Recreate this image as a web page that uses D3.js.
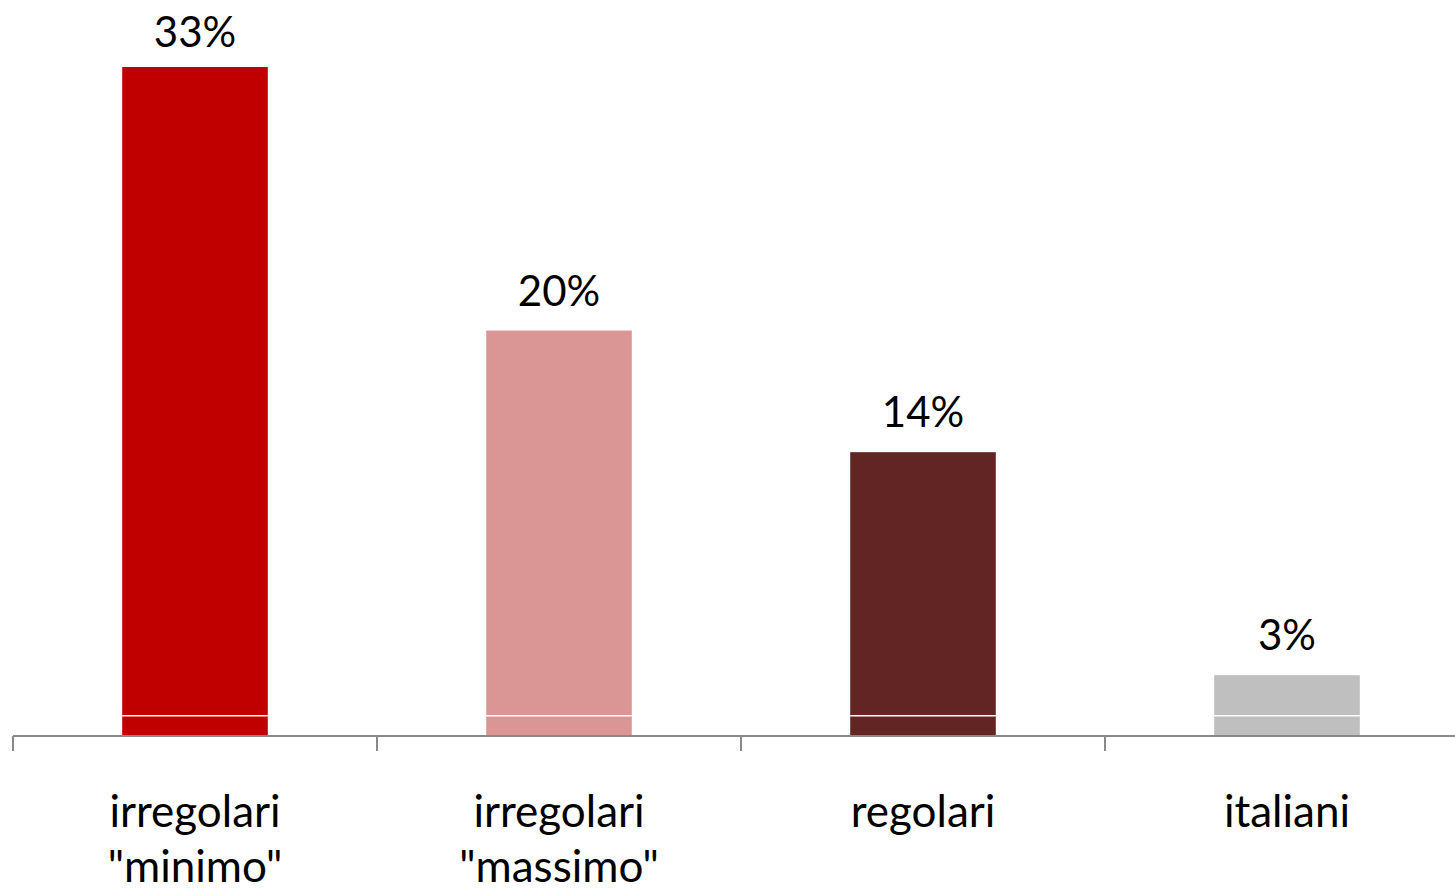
<!DOCTYPE html>
<html><head><meta charset="utf-8">
<script src="https://cdn.jsdelivr.net/npm/d3@7/dist/d3.min.js"></script>
<style>body{margin:0;background:#fff}svg{display:block}</style>
</head><body><svg id="c" width="1455" height="889"></svg>
<script>
const categories = [["irregolari", "\"minimo\""], ["irregolari", "\"massimo\""], ["regolari"], ["italiani"]];
const totals = [33, 20, 14, 3];
const baseSegment = [1, 1, 1, 1];
const labels = ["33%", "20%", "14%", "3%"];
const colors = ["#C00000", "#DA9694", "#632523", "#BFBFBF"];

const svg = d3.select("#c");
const left = 13, right = 1455, baseY = 736;
const x = d3.scaleBand().domain(d3.range(categories.length)).range([left, left + 364 * 4]).paddingInner(0.6).paddingOuter(0.3);
const y = d3.scaleLinear().domain([0, 33]).range([baseY, 67]);
const font = "Lato, 'Open Sans', sans-serif";

const g = svg.append("g");
totals.forEach((t, i) => {
  g.append("rect").attr("x", x(i)).attr("width", x.bandwidth())
    .attr("y", y(t)).attr("height", y(baseSegment[i]) - y(t)).attr("fill", colors[i]);
  g.append("rect").attr("x", x(i)).attr("width", x.bandwidth())
    .attr("y", y(baseSegment[i])).attr("height", y(0) - y(baseSegment[i])).attr("fill", colors[i]);
  g.append("line").attr("x1", x(i)).attr("x2", x(i) + x.bandwidth())
    .attr("y1", y(baseSegment[i])).attr("y2", y(baseSegment[i]))
    .attr("stroke", "#fff").attr("stroke-width", 1.5);
  g.append("text").attr("x", x(i) + x.bandwidth() / 2)
    .attr("y", Math.max(y(t) - 25, 47))
    .attr("text-anchor", "middle").attr("font-family", font).attr("font-size", 42)
    .attr("fill", "#000").text(labels[i]);
});

const xa = d3.scaleLinear().domain([0, 4]).range([left, left + 364 * 4]);
svg.append("line").attr("x1", left).attr("x2", right).attr("y1", baseY).attr("y2", baseY)
  .attr("stroke", "#898989").attr("stroke-width", 2.2);
[0, 1, 2, 3].forEach(k => {
  svg.append("line").attr("x1", xa(k)).attr("x2", xa(k)).attr("y1", baseY).attr("y2", baseY + 15)
    .attr("stroke", "#898989").attr("stroke-width", 2);
});

categories.forEach((lines, i) => {
  const t = svg.append("text").attr("text-anchor", "middle").attr("font-family", font)
    .attr("font-size", 44).attr("fill", "#000");
  lines.forEach((l, j) => {
    t.append("tspan").attr("x", x(i) + x.bandwidth() / 2).attr("y", 827 + j * 55).text(l);
  });
});
</script></body></html>
